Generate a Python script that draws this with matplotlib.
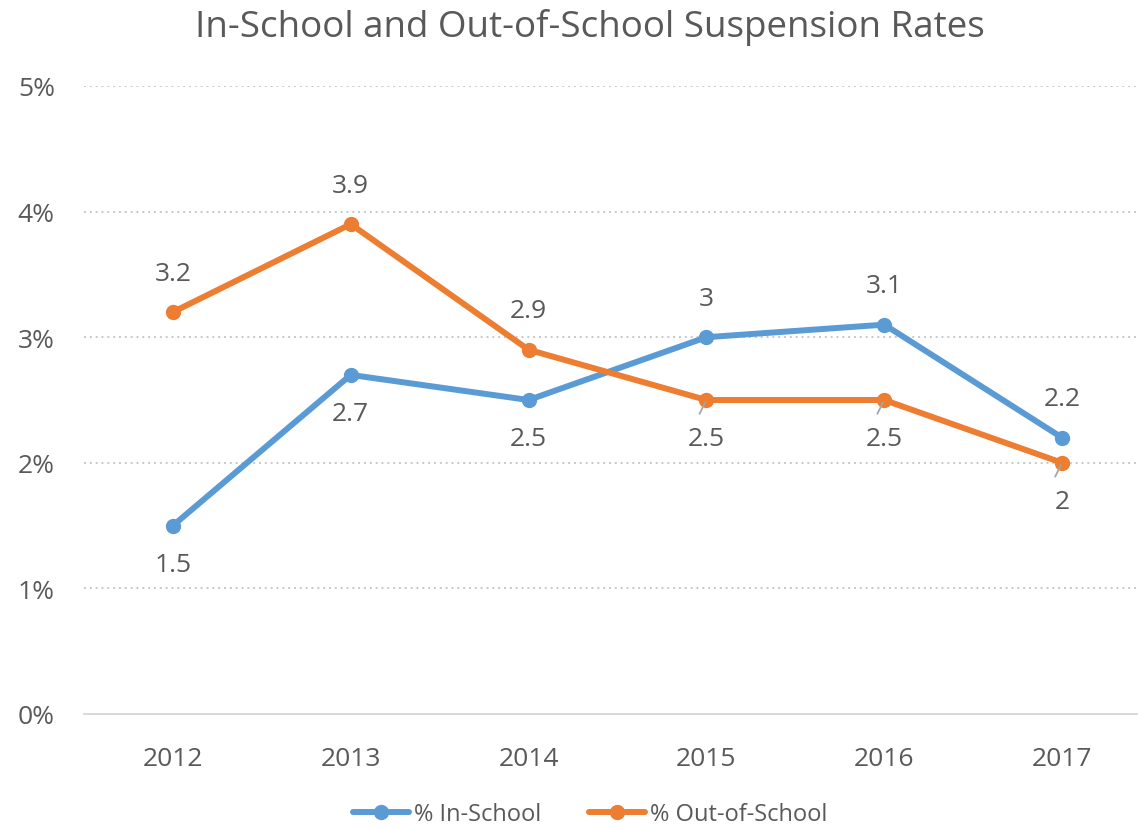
import matplotlib
matplotlib.use("Agg")
import matplotlib.pyplot as plt

years = ["2012", "2013", "2014", "2015", "2016", "2017"]
in_school = [1.5, 2.7, 2.5, 3.0, 3.1, 2.2]
out_school = [3.2, 3.9, 2.9, 2.5, 2.5, 2.0]
in_pos = ["below", "below", "below", "above", "above", "above"]
out_pos = ["above", "above", "above", "below", "below", "below"]
out_leader = [False, False, False, True, True, True]
y_ticks = [0, 1, 2, 3, 4, 5]
y_labels = ["0%", "1%", "2%", "3%", "4%", "5%"]

BLUE = "#5B9BD5"
ORANGE = "#ED7D31"
TXT = "#595959"
GRID = "#C8C8C8"

plt.rcParams['font.family'] = ['Open Sans', 'DejaVu Sans']

fig = plt.figure(figsize=(11.38, 8.29), dpi=100)
ax = fig.add_axes([84/1138, 114/829, (1151-84)/1138, 628/829])

x = list(range(len(years)))
ax.plot(x, in_school, color=BLUE, lw=4.3, marker='o', ms=10, solid_capstyle='round', label="% In-School", zorder=3)
ax.plot(x, out_school, color=ORANGE, lw=4.3, marker='o', ms=10, solid_capstyle='round', label="% Out-of-School", zorder=3)

def fmt(v):
    return f"{v:g}"

LBL = 19
for xi, v, p in zip(x, in_school, in_pos):
    off = 28 if p == "above" else -28
    ax.annotate(fmt(v), (xi, v), xytext=(0, off), textcoords='offset points',
                ha='center', va='center', fontsize=LBL, color=TXT)
for xi, v, p, ld in zip(x, out_school, out_pos, out_leader):
    off = 28 if p == "above" else -28
    ax.annotate(fmt(v), (xi, v), xytext=(0, off), textcoords='offset points',
                ha='center', va='center', fontsize=LBL, color=TXT)
    if ld:
        ax.annotate('', xy=(xi, v), xytext=(-5, -10), textcoords='offset points',
                    arrowprops=dict(arrowstyle='-', color='#A6A6A6', lw=1.3, shrinkA=0, shrinkB=2), zorder=4)

ax.set_xlim(-0.5, len(years) - 0.5)
ax.set_ylim(0, 5)
ax.set_yticks(y_ticks)
ax.set_yticklabels(y_labels)
ax.set_xticks(x)
ax.set_xticklabels(years)
ax.tick_params(axis='both', length=0, labelsize=19, colors=TXT)
ax.tick_params(axis='x', pad=23)
ax.tick_params(axis='y', pad=21)

for t in y_ticks[1:]:
    ax.axhline(t, color=GRID, lw=1.4, ls=(0, (1, 2)), zorder=1)
for s in ["top", "right", "left"]:
    ax.spines[s].set_visible(False)
ax.spines["bottom"].set_color("#D9D9D9")
ax.spines["bottom"].set_linewidth(1.4)

fig.text(590/1138, 1 - 28/829, "In-School and Out-of-School Suspension Rates",
         ha='center', va='center', fontsize=26.5, color=TXT)

fig.legend(loc='center', bbox_to_anchor=(590/1138, 1 - 815/829), ncol=2, frameon=False,
           fontsize=17, labelcolor=TXT, handlelength=2.4, columnspacing=2.0, handletextpad=0.2)

fig.savefig("out.png", dpi=100)
